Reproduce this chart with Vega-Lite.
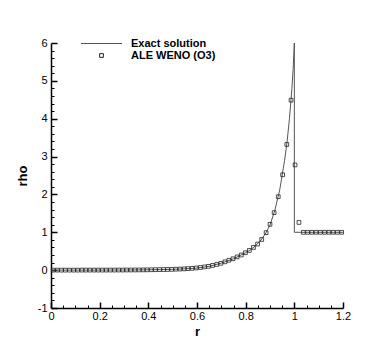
{
  "$schema": "https://vega.github.io/schema/vega-lite/v6.json",
  "autosize": "none",
  "width": 292,
  "height": 265,
  "padding": {"left": 51, "top": 43, "right": 47, "bottom": 39},
  "background": "white",
  "config": {
    "view": {"stroke": null},
    "font": "Liberation Sans",
    "axis": {
      "grid": false,
      "domainColor": "black",
      "domainWidth": 1.5,
      "tickColor": "black",
      "labelColor": "black",
      "labelFont": "Liberation Sans",
      "labelFontSize": 11,
      "titleFont": "Liberation Sans",
      "titleFontSize": 13,
      "titleFontWeight": "bold",
      "titleColor": "black"
    },
    "legend": {
      "labelFont": "Liberation Sans",
      "labelFontSize": 11,
      "labelFontWeight": "bold",
      "labelColor": "black",
      "labelOffset": 24,
      "rowPadding": 0,
      "symbolStrokeWidth": 1,
      "symbolSize": 14
    }
  },
  "datasets": {
    "exact": [
      {"o": 0, "r": 0.0, "rho": 0.0, "series": "Exact solution"},
      {"o": 1, "r": 0.1, "rho": 0.0005, "series": "Exact solution"},
      {"o": 2, "r": 0.2, "rho": 0.001, "series": "Exact solution"},
      {"o": 3, "r": 0.3, "rho": 0.003, "series": "Exact solution"},
      {"o": 4, "r": 0.35, "rho": 0.005, "series": "Exact solution"},
      {"o": 5, "r": 0.4, "rho": 0.009, "series": "Exact solution"},
      {"o": 6, "r": 0.45, "rho": 0.014, "series": "Exact solution"},
      {"o": 7, "r": 0.5, "rho": 0.022, "series": "Exact solution"},
      {"o": 8, "r": 0.55, "rho": 0.035, "series": "Exact solution"},
      {"o": 9, "r": 0.6, "rho": 0.055, "series": "Exact solution"},
      {"o": 10, "r": 0.65, "rho": 0.1, "series": "Exact solution"},
      {"o": 11, "r": 0.7, "rho": 0.185, "series": "Exact solution"},
      {"o": 12, "r": 0.75, "rho": 0.3, "series": "Exact solution"},
      {"o": 13, "r": 0.8, "rho": 0.46, "series": "Exact solution"},
      {"o": 14, "r": 0.82, "rho": 0.54, "series": "Exact solution"},
      {"o": 15, "r": 0.84, "rho": 0.64, "series": "Exact solution"},
      {"o": 16, "r": 0.86, "rho": 0.77, "series": "Exact solution"},
      {"o": 17, "r": 0.88, "rho": 0.95, "series": "Exact solution"},
      {"o": 18, "r": 0.9, "rho": 1.19, "series": "Exact solution"},
      {"o": 19, "r": 0.92, "rho": 1.58, "series": "Exact solution"},
      {"o": 20, "r": 0.94, "rho": 2.12, "series": "Exact solution"},
      {"o": 21, "r": 0.96, "rho": 2.9, "series": "Exact solution"},
      {"o": 22, "r": 0.97, "rho": 3.38, "series": "Exact solution"},
      {"o": 23, "r": 0.98, "rho": 4.0, "series": "Exact solution"},
      {"o": 24, "r": 0.99, "rho": 4.8, "series": "Exact solution"},
      {"o": 25, "r": 0.995, "rho": 5.3, "series": "Exact solution"},
      {"o": 26, "r": 1.0, "rho": 6.0, "series": "Exact solution"},
      {"o": 27, "r": 1.0, "rho": 1.0, "series": "Exact solution"},
      {"o": 28, "r": 1.2, "rho": 1.0, "series": "Exact solution"}
    ],
    "num": [
      {"r": 0.009, "rho": 0.0, "series": "ALE WENO (O3)"},
      {"r": 0.026, "rho": 0.0, "series": "ALE WENO (O3)"},
      {"r": 0.043, "rho": 0.0, "series": "ALE WENO (O3)"},
      {"r": 0.059, "rho": 0.0, "series": "ALE WENO (O3)"},
      {"r": 0.076, "rho": 0.0, "series": "ALE WENO (O3)"},
      {"r": 0.093, "rho": 0.0, "series": "ALE WENO (O3)"},
      {"r": 0.11, "rho": 0.0, "series": "ALE WENO (O3)"},
      {"r": 0.127, "rho": 0.001, "series": "ALE WENO (O3)"},
      {"r": 0.143, "rho": 0.001, "series": "ALE WENO (O3)"},
      {"r": 0.16, "rho": 0.001, "series": "ALE WENO (O3)"},
      {"r": 0.177, "rho": 0.001, "series": "ALE WENO (O3)"},
      {"r": 0.194, "rho": 0.001, "series": "ALE WENO (O3)"},
      {"r": 0.211, "rho": 0.001, "series": "ALE WENO (O3)"},
      {"r": 0.227, "rho": 0.002, "series": "ALE WENO (O3)"},
      {"r": 0.244, "rho": 0.002, "series": "ALE WENO (O3)"},
      {"r": 0.261, "rho": 0.002, "series": "ALE WENO (O3)"},
      {"r": 0.278, "rho": 0.003, "series": "ALE WENO (O3)"},
      {"r": 0.295, "rho": 0.003, "series": "ALE WENO (O3)"},
      {"r": 0.311, "rho": 0.004, "series": "ALE WENO (O3)"},
      {"r": 0.328, "rho": 0.004, "series": "ALE WENO (O3)"},
      {"r": 0.345, "rho": 0.005, "series": "ALE WENO (O3)"},
      {"r": 0.362, "rho": 0.006, "series": "ALE WENO (O3)"},
      {"r": 0.379, "rho": 0.007, "series": "ALE WENO (O3)"},
      {"r": 0.395, "rho": 0.008, "series": "ALE WENO (O3)"},
      {"r": 0.412, "rho": 0.01, "series": "ALE WENO (O3)"},
      {"r": 0.429, "rho": 0.012, "series": "ALE WENO (O3)"},
      {"r": 0.446, "rho": 0.014, "series": "ALE WENO (O3)"},
      {"r": 0.463, "rho": 0.016, "series": "ALE WENO (O3)"},
      {"r": 0.479, "rho": 0.018, "series": "ALE WENO (O3)"},
      {"r": 0.496, "rho": 0.021, "series": "ALE WENO (O3)"},
      {"r": 0.513, "rho": 0.025, "series": "ALE WENO (O3)"},
      {"r": 0.53, "rho": 0.029, "series": "ALE WENO (O3)"},
      {"r": 0.547, "rho": 0.034, "series": "ALE WENO (O3)"},
      {"r": 0.563, "rho": 0.04, "series": "ALE WENO (O3)"},
      {"r": 0.58, "rho": 0.048, "series": "ALE WENO (O3)"},
      {"r": 0.597, "rho": 0.058, "series": "ALE WENO (O3)"},
      {"r": 0.614, "rho": 0.07, "series": "ALE WENO (O3)"},
      {"r": 0.631, "rho": 0.085, "series": "ALE WENO (O3)"},
      {"r": 0.647, "rho": 0.1, "series": "ALE WENO (O3)"},
      {"r": 0.664, "rho": 0.125, "series": "ALE WENO (O3)"},
      {"r": 0.681, "rho": 0.15, "series": "ALE WENO (O3)"},
      {"r": 0.698, "rho": 0.18, "series": "ALE WENO (O3)"},
      {"r": 0.715, "rho": 0.22, "series": "ALE WENO (O3)"},
      {"r": 0.731, "rho": 0.26, "series": "ALE WENO (O3)"},
      {"r": 0.748, "rho": 0.3, "series": "ALE WENO (O3)"},
      {"r": 0.765, "rho": 0.35, "series": "ALE WENO (O3)"},
      {"r": 0.782, "rho": 0.4, "series": "ALE WENO (O3)"},
      {"r": 0.799, "rho": 0.46, "series": "ALE WENO (O3)"},
      {"r": 0.815, "rho": 0.52, "series": "ALE WENO (O3)"},
      {"r": 0.832, "rho": 0.6, "series": "ALE WENO (O3)"},
      {"r": 0.849, "rho": 0.69, "series": "ALE WENO (O3)"},
      {"r": 0.866, "rho": 0.81, "series": "ALE WENO (O3)"},
      {"r": 0.884, "rho": 0.99, "series": "ALE WENO (O3)"},
      {"r": 0.9, "rho": 1.21, "series": "ALE WENO (O3)"},
      {"r": 0.917, "rho": 1.52, "series": "ALE WENO (O3)"},
      {"r": 0.934, "rho": 1.94, "series": "ALE WENO (O3)"},
      {"r": 0.952, "rho": 2.52, "series": "ALE WENO (O3)"},
      {"r": 0.969, "rho": 3.32, "series": "ALE WENO (O3)"},
      {"r": 0.9865, "rho": 4.49, "series": "ALE WENO (O3)"},
      {"r": 1.003, "rho": 2.78, "series": "ALE WENO (O3)"},
      {"r": 1.019, "rho": 1.26, "series": "ALE WENO (O3)"},
      {"r": 1.037, "rho": 1.0, "series": "ALE WENO (O3)"},
      {"r": 1.0545, "rho": 1.0, "series": "ALE WENO (O3)"},
      {"r": 1.072, "rho": 1.0, "series": "ALE WENO (O3)"},
      {"r": 1.0895, "rho": 1.0, "series": "ALE WENO (O3)"},
      {"r": 1.107, "rho": 1.0, "series": "ALE WENO (O3)"},
      {"r": 1.1245, "rho": 1.0, "series": "ALE WENO (O3)"},
      {"r": 1.142, "rho": 1.0, "series": "ALE WENO (O3)"},
      {"r": 1.1595, "rho": 1.0, "series": "ALE WENO (O3)"},
      {"r": 1.177, "rho": 1.0, "series": "ALE WENO (O3)"},
      {"r": 1.1945, "rho": 1.0, "series": "ALE WENO (O3)"}
    ]
  },
  "encoding": {
    "x": {
      "field": "r",
      "type": "quantitative",
      "title": "r",
      "scale": {"domain": [0, 1.2], "nice": false, "zero": false},
      "axis": {
        "values": [0, 0.05, 0.1, 0.15, 0.2, 0.25, 0.3, 0.35, 0.4, 0.45, 0.5, 0.55, 0.6, 0.65, 0.7, 0.75, 0.8, 0.85, 0.9, 0.95, 1, 1.05, 1.1, 1.15, 1.2],
        "labelExpr": "abs(datum.value*5 - round(datum.value*5)) < 0.001 ? '' + round(datum.value*10)/10 : ''",
        "tickSize": {"condition": {"test": "abs(datum.value*5 - round(datum.value*5)) < 0.001", "value": -6}, "value": -3},
        "tickWidth": {"condition": {"test": "abs(datum.value*5 - round(datum.value*5)) < 0.001", "value": 1.5}, "value": 1},
        "labelPadding": 8,
        "titlePadding": 1,
        "labelFlush": false,
        "labelOverlap": false
      }
    },
    "y": {
      "field": "rho",
      "type": "quantitative",
      "title": "rho",
      "scale": {"domain": [-1, 6], "nice": false, "zero": false},
      "axis": {
        "values": [-1, -0.8, -0.6, -0.4, -0.2, 0, 0.2, 0.4, 0.6, 0.8, 1, 1.2, 1.4, 1.6, 1.8, 2, 2.2, 2.4, 2.6, 2.8, 3, 3.2, 3.4, 3.6, 3.8, 4, 4.2, 4.4, 4.6, 4.8, 5, 5.2, 5.4, 5.6, 5.8, 6],
        "labelExpr": "abs(datum.value - round(datum.value)) < 0.001 ? '' + round(datum.value) : ''",
        "tickSize": {"condition": {"test": "abs(datum.value - round(datum.value)) < 0.001", "value": -6}, "value": -3},
        "tickWidth": {"condition": {"test": "abs(datum.value - round(datum.value)) < 0.001", "value": 1.5}, "value": 1},
        "labelPadding": 10,
        "titlePadding": 8,
        "labelFlush": false,
        "labelOverlap": false
      }
    },
    "color": {
      "field": "series",
      "type": "nominal",
      "scale": {"domain": ["Exact solution", "ALE WENO (O3)"], "range": ["#555555", "#222222"]},
      "legend": {
        "title": null,
        "orient": "none",
        "legendX": 45,
        "legendY": -5,
        "symbolFillColor": "transparent",
        "encode": {"symbols": {"update": {"fill": {"value": "transparent"}}}}
      }
    },
    "shape": {
      "field": "series",
      "type": "nominal",
      "scale": {"domain": ["Exact solution", "ALE WENO (O3)"], "range": ["M-11,0H11", "square"]},
      "legend": {
        "title": null,
        "orient": "none",
        "legendX": 45,
        "legendY": -5,
        "symbolFillColor": "transparent",
        "encode": {"symbols": {"update": {"fill": {"value": "transparent"}}}}
      }
    }
  },
  "layer": [
    {
      "data": {"name": "exact"},
      "mark": {"type": "line", "strokeWidth": 1, "clip": true},
      "encoding": {
        "order": {"field": "o", "type": "quantitative"},
        "shape": null
      }
    },
    {
      "data": {"name": "num"},
      "mark": {"type": "point", "filled": false, "size": 14, "strokeWidth": 0.8, "opacity": 1}
    }
  ]
}
